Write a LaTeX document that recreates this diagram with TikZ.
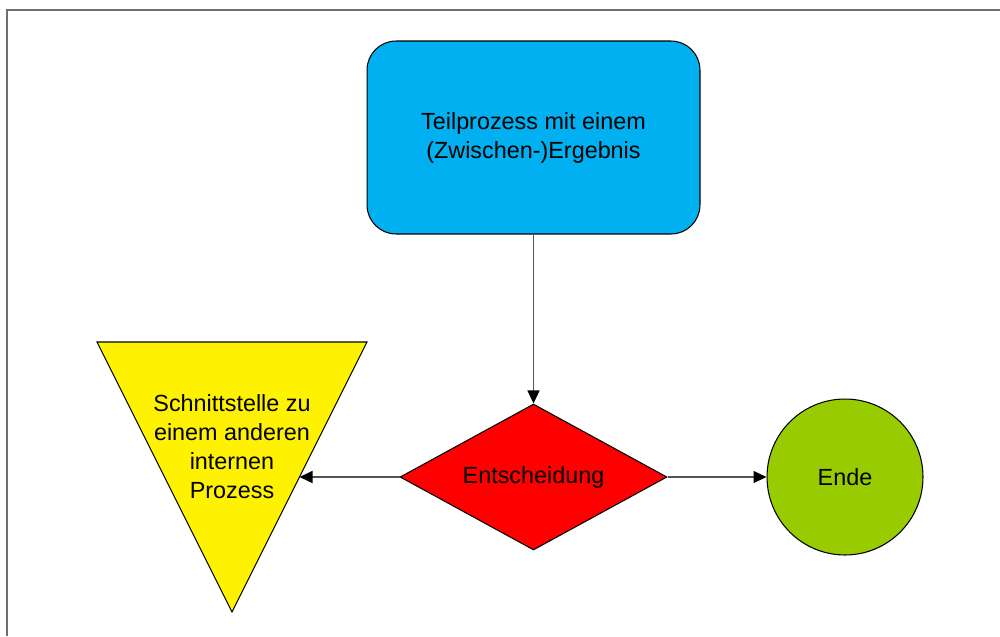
\documentclass[tikz,border=0pt]{standalone}
\usepackage{fontspec}
\setmainfont{Liberation Sans}
\usetikzlibrary{arrows.meta,calc,shapes.geometric}
\definecolor{prozessblau}{HTML}{00B0F0}
\definecolor{endegruen}{HTML}{99CC00}
\definecolor{rahmengrau}{HTML}{6E6E6E}
\definecolor{liniengrau}{HTML}{555555}
\tikzset{
	teilprozess/.style={draw=black, fill=prozessblau, line width=0.6pt, rounded corners=0.58cm, minimum width=6.66cm, minimum height=3.86cm, align=center, inner sep=0pt},
	entscheidung/.style={draw=black, fill=red, line width=0.6pt, diamond, aspect=1.83, minimum width=5.34cm, minimum height=2.92cm, inner sep=0pt},
	ende/.style={draw=black, fill=endegruen, line width=0.6pt, circle, minimum size=3.12cm, inner sep=0pt},
	fluss/.style={draw=liniengrau, line width=0.7pt, -{Triangle[length=0.26cm, width=0.24cm, color=black]}}
}

\begin{document}
\begin{tikzpicture}[x=0.02cm, y=-0.02cm, font=\fontsize{13.3}{16.5}\selectfont]
			\useasboundingbox (0, 0) rectangle (1000, 636);
			%%%%% START %%%%%
			\draw[rahmengrau, line width=0.85pt] (7, 636) -- (7, 10) -- (1000, 10);
			
			\node[teilprozess] (teil) at (533.5, 137.5) {Teilprozess mit einem\\(Zwischen-)Ergebnis};
			\node[entscheidung] (entsch) at (533.5, 477) {Entscheidung};
			\node[ende] (ende) at (845, 477) {Ende};
			
			\draw[fill=yellow, line width=0.6pt] (97, 342) coordinate (tri-l) -- (367, 342) coordinate (tri-r) -- (232, 612) coordinate (tri-s) -- cycle;
			\node[align=center] (schnitt) at (232, 447) {Schnittstelle zu\\einem anderen\\internen\\Prozess};
			\coordinate (schnitt-ein) at ($(tri-r)!0.5!(tri-s)$);
			
			\draw[fluss] (teil) -- (entsch);
			\draw[fluss] (entsch.west) -- (schnitt-ein);
			\draw[fluss] (entsch.east) -- (ende);
			%%%%% END %%%%%
		\end{tikzpicture}
\end{document}
